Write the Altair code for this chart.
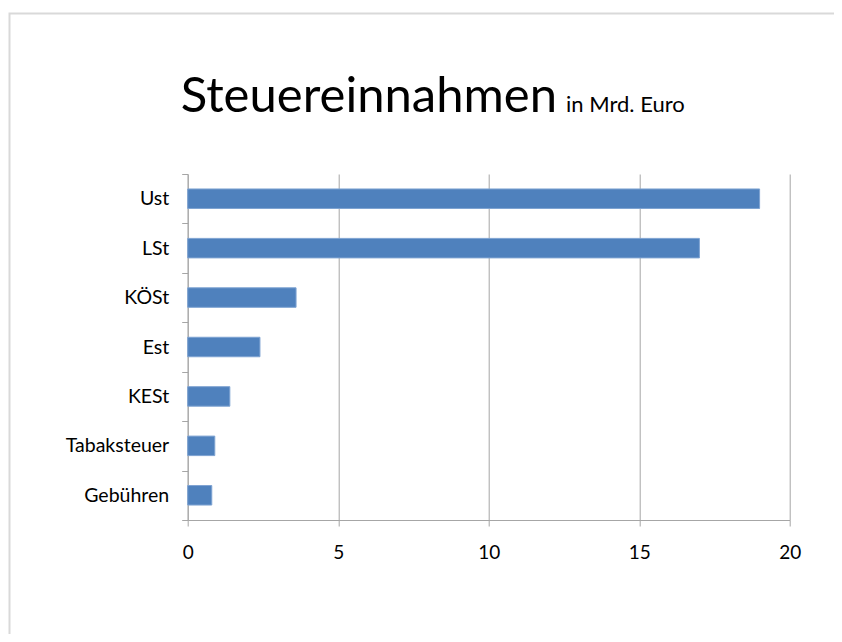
import altair as alt
import pandas as pd

categories = ["Ust", "LSt", "KÖSt", "Est", "KESt", "Tabaksteuer", "Gebühren"]
values = [19, 17, 3.6, 2.4, 1.4, 0.9, 0.8]
x_ticks = [0, 5, 10, 15, 20]
title_main = "Steuereinnahmen"
title_sub = "in Mrd. Euro"

df = pd.DataFrame({"cat": categories, "val": values})

FONT = "Lato"
GRAY = "#a6a6a6"

W, H = 602, 346
PAD_L, PAD_T = 179.7, 166
PAD_R = 826 - W - PAD_L
PAD_B = 626 - H - PAD_T

bars = alt.Chart(df).mark_bar(color="#4f81bd", stroke="#7ea3d2", strokeWidth=1, size=19.5).encode(
    x=alt.X("val:Q", scale=alt.Scale(domain=[0, 20], nice=False),
            axis=alt.Axis(values=x_ticks, grid=True, gridColor=GRAY, domainColor=GRAY,
                          tickColor=GRAY, tickSize=6, labelPadding=17, labelFontSize=19,
                          labelFlush=False,
                          labelFont=FONT, labelColor="#000000", title=None, format="d")),
    y=alt.Y("cat:N", sort=categories,
            scale=alt.Scale(paddingInner=0, paddingOuter=0),
            axis=alt.Axis(tickBand="extent", domainColor=GRAY, tickColor=GRAY, tickSize=6,
                          labelPadding=13, labelFontSize=19.5, labelFont=FONT,
                          labelColor="#000000", title=None)),
)

frame = alt.Chart(alt.Data(values=[{}])).mark_rect(
    fill=None, stroke="#d9d9d9", strokeWidth=2
).encode(
    x=alt.value(1.5 - PAD_L), x2=alt.value(W + 200),
    y=alt.value(13.5 - 8 - PAD_T), y2=alt.value(H + 300),
)

t1 = alt.Chart(alt.Data(values=[{"t": title_main}])).mark_text(
    font=FONT, fontSize=49, align="left", baseline="alphabetic", color="#000000"
).encode(text="t:N", x=alt.value(-7), y=alt.value(112 - 174))

t2 = alt.Chart(alt.Data(values=[{"t": title_sub}])).mark_text(
    font=FONT, fontSize=22, align="left", baseline="alphabetic", color="#000000"
).encode(text="t:N", x=alt.value(566 - 187.7), y=alt.value(112 - 174))

chart = alt.layer(frame, bars, t1, t2).properties(
    width=W, height=H,
    autosize=alt.AutoSizeParams(type="none"),
    padding={"left": PAD_L, "top": PAD_T, "right": PAD_R, "bottom": PAD_B},
).configure_view(stroke=None)

chart.save("out.html", embed_options={"renderer": "svg", "actions": False})
